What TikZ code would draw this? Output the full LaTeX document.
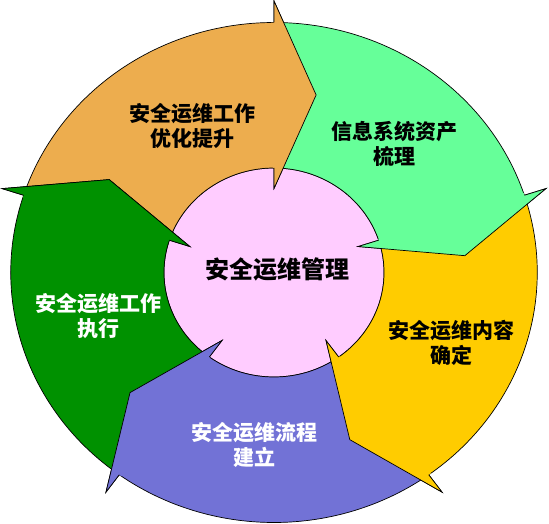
\documentclass[tikz,border=0pt]{standalone}
\usepackage{fontspec}
\newfontfamily\cjk{Noto Sans CJK SC}
\definecolor{corange}{RGB}{237,173,78}
\definecolor{clgreen}{RGB}{102,255,153}
\definecolor{cyellow}{RGB}{255,204,0}
\definecolor{cpurple}{RGB}{114,114,214}
\definecolor{cdgreen}{RGB}{0,145,0}
\definecolor{cpink}{RGB}{255,204,255}
\tikzset{
  outline/.style={draw=black, line width=0.7pt, line join=miter},
  lbl/.style={font=\cjk\bfseries\fontsize{21}{25}\selectfont, align=center, inner sep=0pt},
}
\begin{document}
\begin{tikzpicture}[x=1.053pt, y=1pt]
\useasboundingbox (0pt,0pt) rectangle (549pt,523pt);
\begin{scope}[shift={(274pt,250.5pt)}]
  % centre circle
  \fill[cpink] (0,0) circle[radius=104.5];
  \draw[outline] (0,0) circle[radius=104.5];
  % bodies (with heads)
  \foreach \b/\c in {90/corange, 18/clgreen, -54/cyellow, -126/cpurple, 162/cdgreen} {
    \fill[\c] ({\b+72}:250) arc[start angle={\b+72}, end angle=\b, radius=250]
      -- (\b:271.5) -- ({\b-12.7}:182) -- (\b:84) -- (\b:104.5)
      arc[start angle=\b, end angle={\b+72}, radius=104.5] -- cycle;
    \draw[outline] ({\b+72}:250) arc[start angle={\b+72}, end angle=\b, radius=250]
      -- (\b:271.5) -- ({\b-12.7}:182) -- (\b:84) -- (\b:104.5)
      arc[start angle=\b, end angle={\b+72}, radius=104.5];
  }
  % heads on top
  \foreach \b/\c in {90/corange, 18/clgreen, -54/cyellow, -126/cpurple, 162/cdgreen} {
    \fill[\c] ({\b+0.6}:250) -- (\b:250) -- (\b:271.5) -- ({\b-12.7}:182) -- (\b:84) -- (\b:104.5) -- ({\b+0.6}:104.5) -- cycle;
    \draw[outline] (\b:250) -- (\b:271.5) -- ({\b-12.7}:182) -- (\b:84) -- (\b:104.5);
  }
\end{scope}
\node[lbl, font=\cjk\bfseries\fontsize{24}{28}\selectfont] (center) at (277pt,254pt) {安全运维管理};
\node[lbl] (optimize) at (192.5pt,397.5pt) {安全运维工作\\优化提升};
\node[lbl] (assets) at (394.7pt,379.5pt) {信息系统资产\\梳理};
\node[lbl] (content) at (451pt,180.5pt) {安全运维内容\\确定};
\node[lbl, text=white] (process) at (254.4pt,78pt) {安全运维流程\\建立};
\node[lbl, text=white] (execute) at (98pt,207pt) {安全运维工作\\执行};
\end{tikzpicture}
\end{document}
